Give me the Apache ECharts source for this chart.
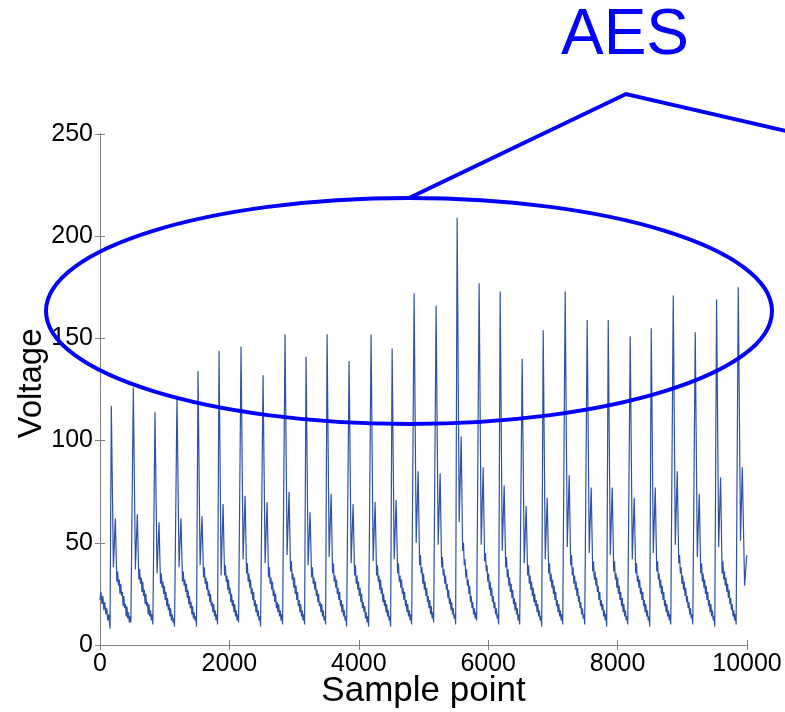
<!DOCTYPE html>
<html>
<head>
<meta charset="utf-8">
<script src="https://cdn.jsdelivr.net/npm/echarts@6/dist/echarts.min.js"></script>
<style>
html,body{margin:0;padding:0;background:#fff;}
#chart{width:785px;height:712px;}
</style>
</head>
<body>
<div id="chart"></div>
<script>
// ---- Data ----
var xTicks = [0, 2000, 4000, 6000, 8000, 10000];
var yTicks = [0, 50, 100, 150, 200, 250];

// sample index of each main spike
var peakSample = [175, 515, 850, 1190, 1515, 1840, 2180, 2520, 2860, 3185,
                  3510, 3850, 4190, 4515, 4855, 5195, 5520, 5860, 6185, 6525,
                  6850, 7190, 7530, 7855, 8195, 8520, 8860, 9200, 9530];

// sample offsets (relative to each spike) at which the voltages below were read
var cycleOffsets = [-20, 0, 32, 62, 85, 98, 110, 122, 134, 146, 158, 170, 182, 194, 206, 218, 230, 242, 254, 266, 278, 290, 302];

// voltage read at each offset, one row per cycle
var cycleVolts = [
  [8,117,38,62,31,36,29,32,25,30,24,26,19,24,18,20,14,19,13,16,11,14,11],
  [11,126,37,64,32,37,30,33,26,31,24,27,20,25,19,21,15,20,14,17,12,15,10],
  [10,114,35,60,30,35,28,31,25,29,22,26,19,23,17,20,14,18,12,15,11,13,9],
  [9,122,38,62,31,36,29,32,26,30,23,27,20,24,18,21,15,19,13,16,12,14,9],
  [9,134,39,63,33,38,30,33,27,31,24,27,21,25,19,21,16,20,14,17,12,15,10],
  [10,144,34,69,34,39,31,34,27,32,25,28,21,25,19,22,16,20,14,17,12,15,11],
  [11,146,42,73,35,40,31,35,28,32,25,28,22,26,19,22,16,20,14,17,12,14,9],
  [9,132,40,70,33,38,30,33,27,31,24,27,21,25,18,21,16,20,14,17,12,15,10],
  [10,152,44,75,36,41,32,35,28,33,25,29,22,26,19,22,16,20,14,17,12,15,10],
  [10,141,39,65,33,38,30,33,27,31,24,27,21,25,19,21,16,20,14,17,12,14,10],
  [10,152,43,74,35,40,31,34,28,32,25,28,22,26,19,22,16,20,14,17,12,14,9],
  [9,139,40,69,34,39,30,34,27,31,24,28,21,25,18,21,16,19,13,16,11,14,9],
  [9,152,41,70,34,39,31,34,27,32,25,28,21,25,19,22,16,20,14,17,12,14,9],
  [9,145,42,71,35,40,31,34,28,32,25,28,22,26,19,22,16,20,14,17,12,15,10],
  [10,172,50,85,39,44,35,38,30,35,27,31,24,28,21,24,18,22,15,19,13,16,11],
  [11,166,49,84,38,43,34,37,30,34,27,30,23,27,20,23,17,21,15,18,13,15,10],
  [10,209,60,102,46,50,39,42,33,37,29,32,25,29,21,24,18,21,15,18,13,16,12],
  [12,177,49,87,41,45,36,39,31,35,27,31,24,28,21,24,18,21,15,18,13,15,10],
  [10,173,46,78,38,43,33,37,29,33,26,30,23,27,20,23,17,21,15,18,12,15,10],
  [10,140,40,68,34,39,30,34,27,31,24,28,21,25,19,22,16,20,14,17,12,14,9],
  [9,154,42,72,35,40,31,35,28,32,25,29,22,26,19,22,16,20,14,17,12,15,10],
  [10,173,48,83,39,44,34,38,30,34,27,31,24,28,21,24,18,21,15,18,13,15,10],
  [10,159,45,77,36,41,32,36,29,33,26,29,22,26,19,22,17,20,14,17,12,15,9],
  [9,159,44,77,36,41,32,35,28,33,25,29,22,26,19,23,16,20,14,17,12,14,10],
  [10,151,42,72,35,40,31,34,28,32,25,28,22,26,19,22,16,20,14,17,12,14,9],
  [9,155,45,77,36,41,32,35,28,32,25,29,22,26,19,22,16,20,14,17,12,15,10],
  [10,171,49,85,40,44,35,38,30,34,27,31,24,28,21,24,18,21,15,18,13,15,10],
  [10,153,43,74,35,40,31,35,28,32,25,29,22,26,19,22,16,20,14,17,12,14,9],
  [9,169,48,82,35,41,32,36,29,33,26,30,23,27,20,23,17,20,14,17,12,15,10]
];

// decay before the first spike and the last (cut-off) cycle: [sample, voltage]
var headPoints = [[0,22],[15,26],[30,20],[45,24],[60,17],[75,21],[90,15],[105,18],[120,12],[135,15]];
var tailPoints = [[9845,10],[9865,175],[9900,51],[9927,87],[9963,29],[9994,43],[10000,44]];

// ---- build the series table ----
var seriesData = headPoints.slice();
for (var c = 0; c < peakSample.length; c++) {
  for (var k = 0; k < cycleOffsets.length; k++) {
    seriesData.push([peakSample[c] + cycleOffsets[k], cycleVolts[c][k]]);
  }
}
seriesData = seriesData.concat(tailPoints);

var FONT = 'Liberation Sans, Arial, Helvetica, sans-serif';
var AXIS_GRAY = '#808080';

var chart = echarts.init(document.getElementById('chart'), null, {renderer: 'canvas'});

function baseAxisLine() {
  return {show: true, lineStyle: {color: AXIS_GRAY, width: 1}};
}
function plainNum(v) { return String(v); }

var option = {
  animation: false,
  backgroundColor: '#ffffff',
  grid: {left: 100, right: 38, top: 134, bottom: 67, containLabel: false, outerBoundsMode: 'none'},
  xAxis: [
    {
      type: 'value', min: xTicks[0], max: xTicks[xTicks.length - 1], interval: xTicks[1] - xTicks[0],
      position: 'bottom',
      name: 'Sample point', nameLocation: 'middle', nameGap: 29, nameMoveOverlap: false,
      nameTextStyle: {fontSize: 35, color: '#000', fontFamily: FONT, verticalAlign: 'top'},
      axisLine: baseAxisLine(),
      axisTick: {show: true, inside: true, length: 5, lineStyle: {color: AXIS_GRAY}},
      axisLabel: {fontSize: 25, color: '#000', fontFamily: FONT, margin: 7, formatter: plainNum, hideOverlap: false},
      splitLine: {show: false}
    },
    {
      type: 'value', min: xTicks[0], max: xTicks[xTicks.length - 1], interval: xTicks[1] - xTicks[0],
      position: 'top',
      axisLine: baseAxisLine(),
      axisTick: {show: true, inside: true, length: 5, lineStyle: {color: AXIS_GRAY}},
      axisLabel: {show: false},
      splitLine: {show: false}
    }
  ],
  yAxis: [
    {
      type: 'value', min: yTicks[0], max: yTicks[yTicks.length - 1], interval: yTicks[1] - yTicks[0],
      position: 'left',
      name: 'Voltage', nameLocation: 'middle', nameGap: 52, nameMoveOverlap: false,
      nameTextStyle: {fontSize: 33, color: '#000', fontFamily: FONT, padding: [0, 0, 0, 12]},
      axisLine: baseAxisLine(),
      axisTick: {show: true, inside: true, length: 5, lineStyle: {color: AXIS_GRAY}},
      axisLabel: {fontSize: 25, color: '#000', fontFamily: FONT, margin: 7, formatter: plainNum},
      splitLine: {show: false}
    },
    {
      type: 'value', min: yTicks[0], max: yTicks[yTicks.length - 1], interval: yTicks[1] - yTicks[0],
      position: 'right',
      axisLine: baseAxisLine(),
      axisTick: {show: true, inside: true, length: 5, lineStyle: {color: AXIS_GRAY}},
      axisLabel: {show: false},
      splitLine: {show: false}
    }
  ],
  series: [{
    type: 'line',
    xAxisIndex: 0, yAxisIndex: 0,
    data: seriesData,
    showSymbol: false,
    symbol: 'none',
    sampling: null,
    lineStyle: {color: '#2d52a8', width: 1.2},
    z: 2
  }],
  graphic: [
    {
      type: 'ellipse', z: 100,
      shape: {cx: 409, cy: 311, rx: 363, ry: 113},
      style: {fill: 'none', stroke: '#0000ff', lineWidth: 4}
    },
    {
      type: 'polyline', z: 100,
      shape: {points: [[409, 198], [626, 94], [795, 133]]},
      style: {fill: 'none', stroke: '#0000ff', lineWidth: 4, lineJoin: 'miter'}
    },
    {
      type: 'text', z: 100,
      x: 625, y: 68,
      style: {text: 'AES', fill: '#0000ff', font: '64px ' + FONT, textAlign: 'center', textVerticalAlign: 'bottom'}
    }
  ]
};

chart.setOption(option);
</script>
</body>
</html>
